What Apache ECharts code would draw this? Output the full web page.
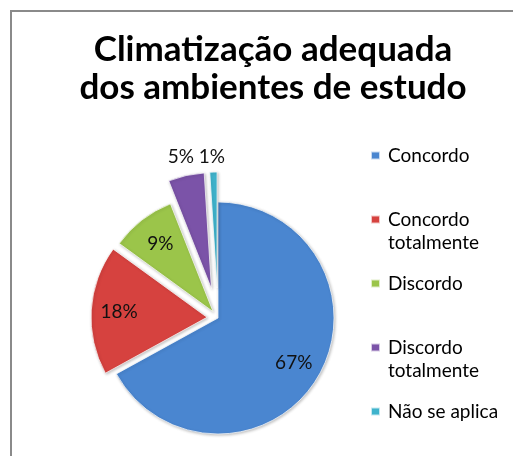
<!DOCTYPE html>
<html>
<head>
<meta charset="utf-8">
<script src="https://cdn.jsdelivr.net/npm/echarts@6/dist/echarts.min.js"></script>
<style>
  html, body { margin: 0; padding: 0; background: #fff; }
  #chart { width: 513px; height: 456px; }
</style>
</head>
<body>
<div id="chart"></div>
<script>
const categories = ['Concordo', 'Concordo totalmente', 'Discordo', 'Discordo totalmente', 'Não se aplica']
const values = [67, 18, 9, 5, 1]

// look of each slice
const colors = ['#4a86d0', '#d6423f', '#9bc54a', '#7b53a8', '#3fb3cc']
const explode = [0, 11, 8, 30, 30]
const labelRadius = [85, 85, 83, 135, 131]
const labelOutside = [false, false, false, true, true]

const center = [218, 318]
const R = 116
const font = 'Lato, "Open Sans", sans-serif'

const chart = echarts.init(document.getElementById('chart'))

// one pie per slice, so every slice can be pulled out by its own amount
function slicePie (i) {
  return {
    type: 'pie',
    center: center,
    radius: [0, R],
    startAngle: 90,
    clockwise: true,
    silent: true,
    animation: false,
    selectedMode: 'single',
    selectedOffset: explode[i],
    label: { show: false },
    labelLine: { show: false },
    data: values.map((v, j) => j === i
      ? {
          value: v,
          name: categories[j],
          selected: explode[j] > 0,
          itemStyle: {
            color: colors[j],
            borderColor: 'rgba(255,255,255,0.7)',
            borderWidth: 1,
            shadowBlur: 3,
            shadowColor: 'rgba(0,0,0,0.25)',
            shadowOffsetX: 1,
            shadowOffsetY: 1
          }
        }
      : { value: v, name: '', itemStyle: { color: 'rgba(0,0,0,0)' } })
  }
}

// invisible pie that only carries the percentage text
function labelPie (i) {
  const outside = labelOutside[i]
  const other = 2 * labelRadius[i] - R
  const labelStyle = {
    show: true,
    position: outside ? 'outside' : 'inside',
    formatter: '{d}%',
    fontFamily: font,
    fontSize: 19,
    color: '#111'
  }
  if (outside) labelStyle.distanceToLabelLine = -12
  return {
    type: 'pie',
    center: center,
    radius: outside ? [0, R] : [Math.min(R, other), Math.max(R, other)],
    startAngle: 90,
    clockwise: true,
    silent: true,
    animation: false,
    avoidLabelOverlap: false,
    minShowLabelAngle: 0,
    selectedMode: 'single',
    selectedOffset: explode[i],
    percentPrecision: 0,
    labelLayout: { hideOverlap: false },
    labelLine: { show: false, length: labelRadius[i] - R, length2: 0 },
    data: values.map((v, j) => ({
      value: v,
      name: '',
      selected: j === i && explode[j] > 0,
      itemStyle: { color: 'rgba(0,0,0,0)' },
      label: j === i ? labelStyle : { show: false }
    }))
  }
}

const series = []
categories.forEach((c, i) => series.push(slicePie(i)))
categories.forEach((c, i) => series.push(labelPie(i)))

const option = {
  backgroundColor: '#fff',
  graphic: [{
    type: 'rect',
    silent: true,
    shape: { x: 11, y: 11, width: 700, height: 700 },
    style: { fill: 'none', stroke: '#8a8a8a', lineWidth: 2 }
  }],
  title: {
    text: 'Climatização adequada\ndos ambientes de estudo',
    left: 273,
    top: 31,
    textAlign: 'center',
    padding: 0,
    textStyle: {
      fontFamily: font,
      fontWeight: 'bold',
      fontSize: 35,
      lineHeight: 38,
      color: '#000'
    }
  },
  legend: {
    orient: 'vertical',
    left: 370,
    top: 144,
    padding: 0,
    itemGap: 18,
    itemWidth: 9,
    itemHeight: 8,
    icon: 'rect',
    selectedMode: false,
    // two-line names get an empty first line so the square sits by their first line
    formatter: name => name.indexOf(' totalmente') > 0
      ? '\n' + name.replace(' totalmente', '\ntotalmente')
      : name,
    textStyle: {
      fontFamily: font,
      fontSize: 19,
      lineHeight: 23,
      padding: [0, 0, 0, 3],
      color: '#000'
    },
    data: categories
  },
  series: series
}

chart.setOption(option)
</script>
</body>
</html>
